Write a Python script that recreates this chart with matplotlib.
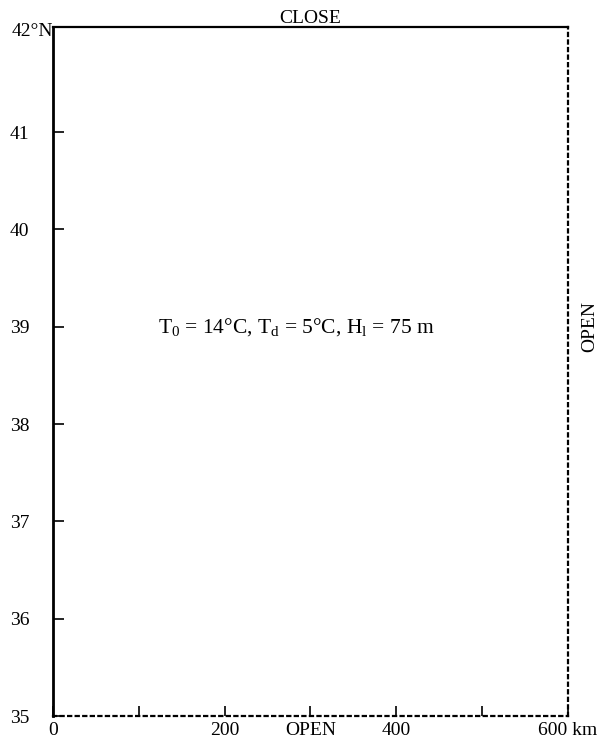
import matplotlib
matplotlib.use("Agg")
import matplotlib.pyplot as plt

# Data / labels
x_ticks = [0, 100, 200, 300, 400, 500, 600]
x_labels = ["0", "", "200", "OPEN", "400", "", "600 km"]
y_ticks = [35, 36, 37, 38, 39, 40, 41]
y_labels = ["35", "36", "37", "38", "39", "40", "41"]
top_label = "42°N"
x_range = [0, 600]
y_range = [35, 42.08]
annotation = r"T$_{0}$ = 14°C, T$_{d}$ = 5°C, H$_{l}$ = 75 m"

plt.rcParams['font.family'] = ['Liberation Serif', 'DejaVu Serif']
plt.rcParams['mathtext.fontset'] = 'custom'
plt.rcParams['mathtext.rm'] = 'Liberation Serif'
plt.rcParams['mathtext.it'] = 'Liberation Serif'

fig = plt.figure(figsize=(6.05, 7.44), dpi=100)
ax = fig.add_axes([0.0876, 0.0376, 0.851, 0.926])
ax.set_xlim(*x_range)
ax.set_ylim(*y_range)

ax.spines['left'].set_linewidth(2.0)
ax.spines['top'].set_linewidth(1.6)
for s in ['right', 'bottom']:
    ax.spines[s].set_linewidth(1.6)
    ax.spines[s].set_linestyle((0, (1.4, 2.0)))

ax.set_xticks(x_ticks)
ax.set_xticklabels(x_labels, fontsize=14)
ax.set_yticks(y_ticks)
ax.set_yticklabels(y_labels, fontsize=14)
ax.tick_params(axis='x', direction='in', length=7, width=1.2, pad=4)
ax.tick_params(axis='y', direction='in', length=8, width=1.2, pad=17)

ax.text(0, 42.03, top_label, ha='right', va='center', fontsize=14,
        clip_on=False)
ax.text(300, y_range[1], "CLOSE", ha='center', va='bottom', fontsize=14,
        clip_on=False)
ax.text(625, 39, "OPEN", ha='center', va='center', rotation=90, fontsize=14,
        clip_on=False)
ax.text(122, 39, annotation, ha='left', va='center', fontsize=15.5)

fig.savefig("out.png", dpi=100)
